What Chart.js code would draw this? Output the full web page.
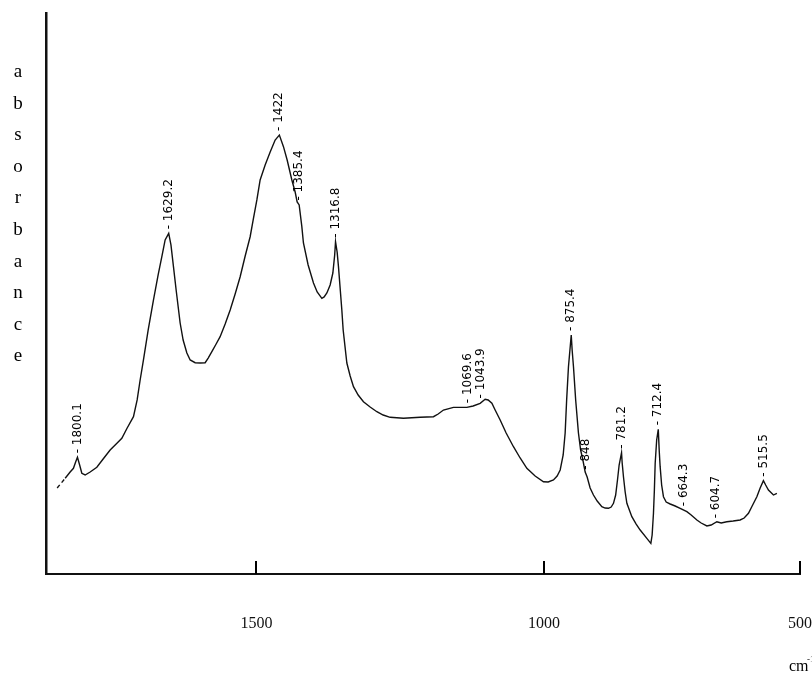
<!DOCTYPE html>
<html>
<head>
<meta charset="utf-8">
<title>Spectre IR</title>
<script src="https://cdn.jsdelivr.net/npm/chart.js@4/dist/chart.umd.min.js"></script>
<style>
  html, body { margin: 0; padding: 0; background: #fff; }
  canvas { display: block; }
</style>
</head>
<body>
<canvas id="spectre" width="812" height="683"></canvas>
<script>
/* Spectre IR : absorbance en fonction du nombre d'onde (cm-1), axe inversé. */
const NOMBRE_ONDE = [
  1838.1, 1823.1, 1813.8, 1807.6, 1803.5, 1800.1, 1796.0, 1791.9, 1785.7, 1776.3,
  1763.8, 1752.0, 1738.9, 1727.6, 1717.0, 1707.0, 1695.2, 1688.3, 1682.7, 1676.5,
  1667.7, 1657.8, 1649.0, 1641.5, 1635.9, 1629.2, 1625.0, 1620.3, 1615.3, 1607.8,
  1602.2, 1595.2, 1589.0, 1579.7, 1570.3, 1561.0, 1555.3, 1548.4, 1540.4, 1532.9,
  1523.5, 1514.1, 1504.8, 1495.4, 1486.0, 1476.7, 1471.1, 1464.1, 1458.0, 1448.6,
  1439.2, 1429.9, 1422.0, 1414.3, 1407.4, 1398.6, 1392.4, 1388.7, 1384.9, 1379.9,
  1376.9, 1368.1, 1358.1, 1351.2, 1342.4, 1338.1, 1333.0, 1326.9, 1321.8, 1318.4,
  1316.8, 1313.8, 1311.3, 1305.0, 1302.5, 1295.6, 1289.4, 1283.2, 1274.4, 1264.5,
  1252.0, 1239.4, 1227.6, 1214.5, 1189.6, 1158.3, 1133.4, 1124.6, 1114.7, 1096.0,
  1070.9, 1059.1, 1046.0, 1036.6, 1031.0, 1024.0, 1017.9, 1008.5, 997.3, 983.6,
  971.1, 958.5, 943.0, 927.4, 918.6, 908.7, 901.8, 896.1, 890.5, 886.8,
  884.0, 880.6, 875.4, 873.7, 871.2, 867.1, 861.9, 857.8, 853.6, 849.3,
  845.6, 840.0, 833.8, 826.8, 818.1, 811.9, 805.7, 800.6, 796.3, 792.2,
  788.8, 785.7, 781.2, 780.0, 777.6, 774.4, 771.2, 761.9, 753.8, 746.3,
  733.8, 726.3, 723.9, 721.4, 719.7, 718.2, 715.4, 712.4, 710.7, 708.9,
  706.1, 702.7, 697.6, 690.1, 680.8, 671.4, 658.9, 650.8, 640.1, 632.1,
  621.4, 613.4, 602.7, 594.6, 584.0, 572.2, 559.1, 551.6, 543.5, 536.6,
  527.8, 521.6, 515.5, 511.3, 506.1, 496.7, 490.3
];
const ABSORBANCE = [
  15.33, 17.06, 18.18, 18.84, 19.96, 20.80, 19.43, 17.95, 17.65, 18.18,
  19.02, 20.50, 22.10, 23.17, 24.19, 26.02, 28.04, 31.02, 34.58, 38.15,
  43.49, 48.84, 53.30, 56.86, 59.54, 60.73, 58.65, 54.78, 50.62, 44.74,
  41.71, 39.39, 38.15, 37.66, 37.61, 37.66, 38.50, 39.63, 41.00, 42.30,
  44.56, 47.06, 49.91, 52.99, 56.68, 60.12, 63.10, 66.67, 70.23, 72.91,
  75.22, 77.36, 78.25, 76.17, 73.80, 70.23, 68.09, 66.31, 65.78, 61.91,
  59.00, 55.08, 51.87, 50.27, 49.14, 49.38, 50.09, 51.52, 53.65, 56.86,
  59.23, 57.40, 54.78, 47.06, 43.49, 37.61, 35.29, 33.39, 31.91, 30.71,
  29.77, 28.93, 28.34, 27.93, 27.75, 27.93, 28.04, 28.52, 29.23, 29.71,
  29.71, 29.95, 30.43, 31.14, 31.02, 30.43, 29.23, 27.45, 25.13, 22.69,
  20.68, 18.84, 17.47, 16.45, 16.40, 16.76, 17.47, 18.54, 21.21, 25.13,
  31.02, 36.95, 42.60, 39.93, 36.95, 31.02, 25.13, 22.10, 20.32, 18.18,
  17.29, 15.33, 14.08, 13.01, 12.00, 11.76, 11.71, 11.94, 12.60, 14.08,
  16.76, 19.43, 21.62, 19.79, 17.34, 14.62, 12.60, 10.21, 8.91, 7.84,
  6.36, 5.47, 6.95, 10.82, 14.97, 19.73, 23.89, 25.79, 22.10, 19.13,
  15.86, 13.78, 12.83, 12.48, 12.12, 11.71, 11.11, 10.52, 9.63, 9.09,
  8.56, 8.73, 9.32, 9.09, 9.32, 9.45, 9.63, 9.98, 10.82, 12.12,
  13.78, 15.33, 16.63, 15.86, 14.97, 14.08, 14.39
];

// pics annotés
const PICS = [1800.1, 1629.2, 1422, 1385.4, 1316.8, 1069.6, 1043.9, 875.4, 848, 781.2, 712.4, 664.3, 604.7, 515.5];
const PICS_TEXTE = ["1800.1", "1629.2", "1422", "1385.4", "1316.8", "1069.6", "1043.9", "875.4", "848", "781.2", "712.4", "664.3", "604.7", "515.5"];

// graduations imprimées (décalées par rapport aux pics sur l'original)
const GRAD_VALEURS = [1465, 926.5, 447];
const GRAD_TEXTE = ["1500", "1000", "500"];

const TITRE_Y = "absorbance";

function valeurA(w) {
  for (let i = 0; i < NOMBRE_ONDE.length - 1; i++) {
    const a = NOMBRE_ONDE[i], b = NOMBRE_ONDE[i + 1];
    if (w <= a && w >= b) {
      const t = (a - w) / (a - b);
      return ABSORBANCE[i] + t * (ABSORBANCE[i + 1] - ABSORBANCE[i]);
    }
  }
  return ABSORBANCE[ABSORBANCE.length - 1];
}

const decor = {
  id: "decor",
  afterDraw(chart) {
    const { ctx, chartArea, scales } = chart;
    const x = scales.x, y = scales.y;
    ctx.save();
    ctx.fillStyle = "#000";
    ctx.strokeStyle = "#000";

    // graduations vers l'intérieur
    ctx.lineWidth = 2;
    x.ticks.forEach(t => {
      const px = Math.round(x.getPixelForValue(t.value));
      ctx.beginPath();
      ctx.moveTo(px, chartArea.bottom);
      ctx.lineTo(px, chartArea.bottom - 13);
      ctx.stroke();
    });

    // étiquettes des pics
    ctx.font = "12px 'DejaVu Sans'";
    ctx.textAlign = "left";
    ctx.textBaseline = "middle";
    PICS.forEach((w, i) => {
      const px = x.getPixelForValue(w);
      const py = y.getPixelForValue(valeurA(w)) - 4;
      ctx.save();
      ctx.translate(px, py);
      ctx.rotate(-Math.PI / 2);
      ctx.fillText("- " + PICS_TEXTE[i], 0, 0);
      ctx.restore();
    });

    // titre vertical lettre par lettre
    ctx.font = "19px 'Liberation Serif'";
    ctx.textAlign = "center";
    ctx.textBaseline = "middle";
    TITRE_Y.split("").forEach((c, i) => {
      ctx.fillText(c, 18, 72 + i * 31.6);
    });

    // unité
    ctx.textAlign = "left";
    ctx.textBaseline = "alphabetic";
    ctx.font = "16px 'Liberation Serif'";
    ctx.fillText("cm", 789, 671);
    ctx.font = "9px 'Liberation Serif'";
    ctx.fillText("-1", 807, 662);
    ctx.restore();
  }
};

new Chart(document.getElementById("spectre"), {
  type: "line",
  data: {
    datasets: [{
      data: NOMBRE_ONDE.map((w, i) => ({ x: w, y: ABSORBANCE[i] })),
      borderColor: "#111",
      borderWidth: 1.4,
      pointRadius: 0,
      tension: 0,
      fill: false,
      segment: { borderDash: c => (c.p0DataIndex < 1 ? [4, 3] : undefined) },
    }],
  },
  options: {
    responsive: false,
    animation: false,
    layout: { padding: { top: 13, right: 12, left: 0, bottom: 0 } },
    plugins: { legend: { display: false }, tooltip: { enabled: false } },
    scales: {
      x: {
        type: "linear",
        reverse: true,
        min: 447,
        max: 1859,
        afterBuildTicks: s => { s.ticks = GRAD_VALEURS.map(v => ({ value: v })); },
        afterFit: s => { s.height = 109; s.paddingLeft = 0; s.paddingRight = 0; },
        ticks: {
          autoSkip: false,
          maxRotation: 0,
          padding: 32,
          color: "#111",
          font: { family: "'Liberation Serif'", size: 16 },
          callback: (v, i) => GRAD_TEXTE[i],
        },
        grid: { display: false },
        border: { color: "#111", width: 2 },
      },
      y: {
        min: 0,
        max: 100,
        afterFit: s => { s.width = 46; s.paddingTop = 0; s.paddingBottom = 0; },
        ticks: { display: false },
        grid: { display: false },
        border: { color: "#111", width: 2.5 },
      },
    },
  },
  plugins: [decor],
});
</script>
</body>
</html>
